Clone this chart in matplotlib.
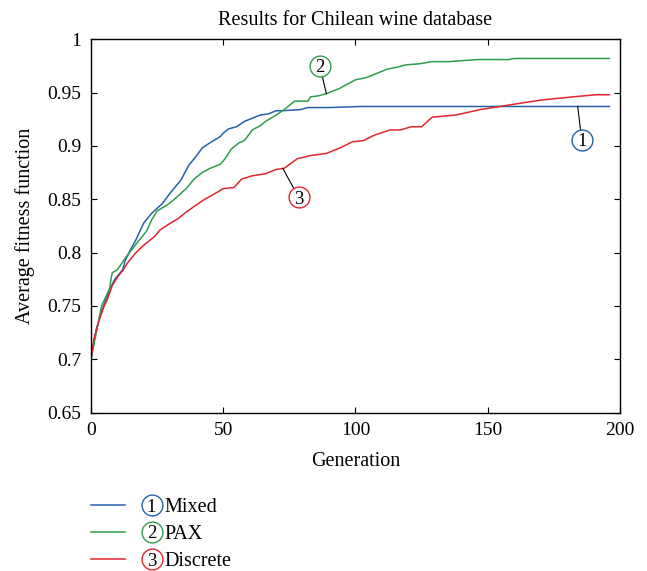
"""
Average fitness per generation for the Chilean wine database,
three crossover variants (Mixed, PAX, Discrete).
"""

import matplotlib
matplotlib.use('Agg')

import matplotlib.pyplot as plt
from matplotlib.lines import Line2D

plt.rcParams['font.family'] = ['Liberation Serif', 'DejaVu Serif']

# --- data ---
MIXED_GEN = [0, 1, 2, 4, 6, 8, 9, 12, 13, 15, 17, 20, 23, 27, 30, 34, 37, 40,
             42, 45, 49, 50, 52, 55, 58, 60, 64, 67, 70, 72, 79, 82, 90, 102, 196]
MIXED_FIT = [0.700, 0.715, 0.728, 0.745, 0.758, 0.770, 0.775, 0.784, 0.793,
             0.803, 0.812, 0.828, 0.837, 0.846, 0.856, 0.868, 0.882, 0.891,
             0.898, 0.903, 0.909, 0.912, 0.916, 0.918, 0.923, 0.925, 0.929,
             0.930, 0.933, 0.933, 0.934, 0.936, 0.936, 0.937, 0.937]

PAX_GEN = [0, 2, 4, 7, 8, 10, 13, 18, 21, 23, 25, 29, 32, 36, 39, 42, 45, 49,
           51, 53, 56, 58, 61, 64, 66, 70, 73, 77, 82, 83, 86, 89, 92, 94, 97,
           100, 104, 108, 112, 116, 119, 124, 129, 135, 146, 158, 160, 196]
PAX_FIT = [0.700, 0.725, 0.750, 0.766, 0.781, 0.784, 0.795, 0.811, 0.820,
           0.831, 0.839, 0.845, 0.851, 0.860, 0.869, 0.875, 0.879, 0.883,
           0.889, 0.897, 0.903, 0.905, 0.915, 0.919, 0.923, 0.929, 0.934,
           0.942, 0.942, 0.946, 0.947, 0.949, 0.952, 0.954, 0.958, 0.962,
           0.964, 0.968, 0.972, 0.974, 0.976, 0.977, 0.979, 0.979, 0.981,
           0.981, 0.982, 0.982]

DISC_GEN = [0, 1, 3, 5, 6, 8, 10, 12, 14, 17, 20, 22, 24, 26, 29, 33, 36, 40,
            43, 46, 50, 54, 57, 61, 66, 70, 73, 78, 83, 89, 94, 99, 103, 107,
            113, 117, 121, 125, 129, 138, 147, 157, 170, 182, 191, 196]
DISC_FIT = [0.700, 0.718, 0.736, 0.750, 0.755, 0.769, 0.777, 0.783, 0.791,
            0.800, 0.807, 0.811, 0.815, 0.821, 0.826, 0.832, 0.838, 0.845,
            0.850, 0.854, 0.860, 0.861, 0.869, 0.872, 0.874, 0.878, 0.879,
            0.888, 0.891, 0.893, 0.898, 0.904, 0.905, 0.910, 0.915, 0.915,
            0.918, 0.918, 0.927, 0.929, 0.934, 0.938, 0.943, 0.946, 0.948,
            0.948]

LABELS = ['Mixed', 'PAX', 'Discrete']
COLORS = ['#2461a9', '#2f9d4e', '#e2262d']

# callout: (number, point on curve, circle centre)
CALLOUTS = [
    ('1', (184, 0.937), (185.5, 0.906)),
    ('2', (89, 0.949), (86.5, 0.975)),
    ('3', (72.5, 0.879), (78.5, 0.852)),
]

X_TICKS = [0, 50, 100, 150, 200]
Y_TICKS = [0.65, 0.7, 0.75, 0.8, 0.85, 0.9, 0.95, 1.0]
Y_TICK_LABELS = ['0.65', '0.7', '0.75', '0.8', '0.85', '0.9', '0.95', '1']

FS = 14.5
CIRCLE_MS = 15


def main():
    fig = plt.figure(figsize=(6.47, 5.71), dpi=100)
    ax = fig.add_axes([0.1406, 0.2774, 0.8177, 0.6538])

    series = [(MIXED_GEN, MIXED_FIT), (PAX_GEN, PAX_FIT), (DISC_GEN, DISC_FIT)]
    for (gx, gy), col in zip(series, COLORS):
        ax.plot(gx, gy, color=col, linewidth=1.1)

    # circled numbers with leader lines
    for (num, pt, ctr), col in zip(CALLOUTS, COLORS):
        ax.plot([pt[0], ctr[0]], [pt[1], ctr[1]], color='black', lw=0.8,
                zorder=4)
        ax.plot([ctr[0]], [ctr[1]], marker='o', ms=CIRCLE_MS, mfc='white',
                mec=col, mew=1.0, zorder=5)
        ax.text(ctr[0], ctr[1], num, ha='center', va='center_baseline',
                fontsize=13.5, zorder=6)

    ax.set_xlim(0, 200)
    ax.set_ylim(0.65, 1.0)
    ax.set_xticks(X_TICKS)
    ax.set_yticks(Y_TICKS)
    ax.set_yticklabels(Y_TICK_LABELS)
    ax.tick_params(direction='in', length=4.5, width=0.8, labelsize=14,
                   top=True, right=True)
    ax.tick_params(axis='x', pad=7)
    ax.tick_params(axis='y', pad=7)
    # left-hand ticks come out blue in the source figure
    for t in ax.yaxis.get_major_ticks():
        t.tick1line.set_color(COLORS[0])
    for s in ax.spines.values():
        s.set_linewidth(1.0)

    ax.set_xlabel('Generation', fontsize=FS, labelpad=9)
    ax.set_ylabel('Average fitness function', fontsize=FS, labelpad=9)
    ax.set_title('Results for Chilean wine database', fontsize=FS, pad=10)

    # legend below the axes, drawn by hand (circled number + name)
    W, H = 647.0, 571.0
    for i, (name, col) in enumerate(zip(LABELS, COLORS)):
        y = 1 - (505 + 27 * i) / H
        fig.add_artist(Line2D([91 / W, 125 / W], [y, y], color=col,
                              linewidth=1.1, transform=fig.transFigure))
        fig.add_artist(Line2D([151.5 / W], [y], marker='o', ms=CIRCLE_MS,
                              mfc='white', mec=col, mew=1.0,
                              transform=fig.transFigure))
        fig.text(151.5 / W, y, str(i + 1), ha='center', va='center_baseline',
                 fontsize=13.5)
        fig.text(164 / W, y, name, ha='left', va='center_baseline',
                 fontsize=FS)

    fig.savefig('out.png', dpi=100)
    plt.close(fig)


if __name__ == '__main__':
    main()
